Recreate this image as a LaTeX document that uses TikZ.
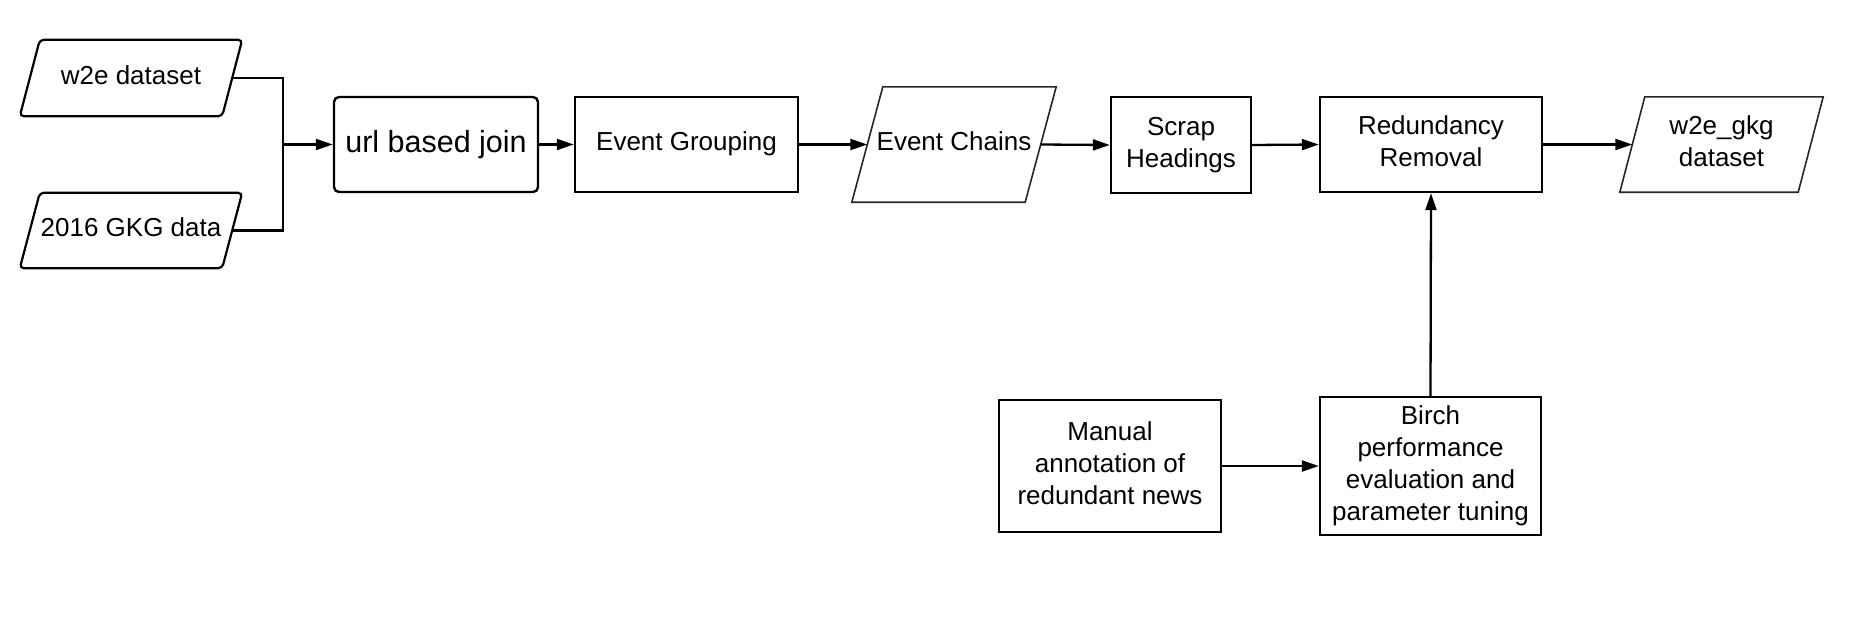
\documentclass[tikz,border=0pt]{standalone}
\usepackage{fontspec}
\setmainfont{Liberation Sans}
\usetikzlibrary{arrows.meta}
\begin{document}
\begin{tikzpicture}[x=1pt,y=-1pt,
  txt/.style={font=\fontsize{26}{32}\selectfont, align=center, inner sep=0pt, text depth=6pt},
  boxnode/.style={txt, draw=black, line width=2.4pt, minimum height=95pt},
  roundbox/.style={boxnode, rounded corners=5pt},
  plain/.style={txt, draw=none, minimum height=95pt},
  conn/.style={line width=2.3pt, black},
  arr/.style={conn, -{Triangle[length=17pt,width=11pt]}},
  para/.style={line width=2.2pt, black, rounded corners=4pt},
  thinpara/.style={line width=1.6pt, black!85}
]
\useasboundingbox (0,0) rectangle (1863,640);

% data sources
\node[plain, minimum width=202pt, minimum height=76pt] (w2e) at (131,78) {w2e dataset};
\node[plain, minimum width=202pt, minimum height=75pt] (gkg) at (131,230.5) {2016 GKG data};
\draw[para] ([xshift=-10pt]w2e.south west) -- ([xshift=10pt]w2e.north west) -- ([xshift=10pt]w2e.north east) -- ([xshift=-10pt]w2e.south east) -- cycle;
\draw[para] ([xshift=-10pt]gkg.south west) -- ([xshift=10pt]gkg.north west) -- ([xshift=10pt]gkg.north east) -- ([xshift=-10pt]gkg.south east) -- cycle;

% main chain
\node[roundbox, minimum width=204pt, font=\fontsize{30.5}{36}\selectfont] (url) at (436,144.5) {url based join};
\node[boxnode, minimum width=223pt] (eg) at (686.5,144.5) {Event Grouping};
\node[plain, minimum width=173pt, minimum height=115pt] (chains) at (954,144.5) {Event Chains};
\draw[thinpara] ([xshift=-15.5pt]chains.south west) -- ([xshift=15.5pt]chains.north west) -- ([xshift=15.5pt]chains.north east) -- ([xshift=-15.5pt]chains.south east) -- cycle;
\node[boxnode, minimum width=140pt, minimum height=96pt] (scrap) at (1181,145) {Scrap\\Headings};
\node[boxnode, minimum width=222pt] (red) at (1431,144.5) {Redundancy\\Removal};
\node[plain, minimum width=178pt] (out) at (1721.5,144.5) {w2e\_gkg\\dataset};
\draw[thinpara] ([xshift=-12.5pt]out.south west) -- ([xshift=12.5pt]out.north west) -- ([xshift=12.5pt]out.north east) -- ([xshift=-12.5pt]out.south east) -- cycle;

% lower branch
\node[boxnode, minimum width=222pt, minimum height=132pt] (manual) at (1110,466) {Manual\\annotation of\\redundant news};
\node[boxnode, minimum width=221pt, minimum height=138pt] (birch) at (1430.5,466) {Birch\\performance\\evaluation and\\parameter tuning};

% connectors
\coordinate (j) at (283,144.5);
\draw[conn] (w2e.east) -| (j);
\draw[conn] (gkg.east) -| (j);
\draw[arr] (j) -- (url.west);
\draw[arr] (url.east) -- (eg.west);
\draw[arr] (eg.east) -- (chains.west);
\draw[arr] (chains.east) -- (scrap.west);
\draw[arr] (scrap.east) -- (red.west);
\draw[arr] (red.east) -- (out.west);
\draw[arr] (manual.east) -- (birch.west);
\draw[arr] (birch.north) -- (red.south);
\end{tikzpicture}
\end{document}
